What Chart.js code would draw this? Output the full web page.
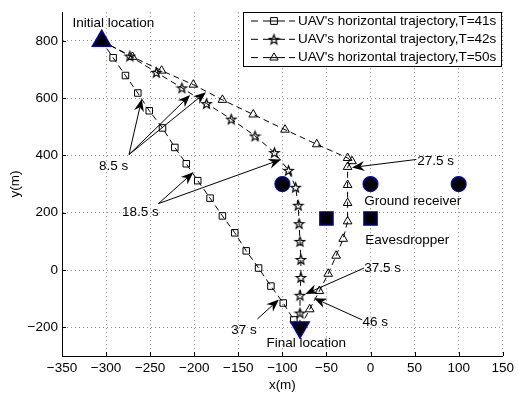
<!DOCTYPE html>
<html>
<head>
<meta charset="utf-8">
<script src="https://cdn.jsdelivr.net/npm/chart.js@4.4.0/dist/chart.umd.min.js"></script>
<style>
  html, body { margin: 0; padding: 0; background: #fff; }
</style>
</head>
<body>
<canvas id="myChart" width="518" height="394"></canvas>
<script>
// UAV trajectories (m), from the initial to the final location
const trajX41 = [-305, -292, -278, -264, -251, -236, -222, -209, -196, -182, -168, -154, -141, -127, -113, -99, -87, -80];
const trajY41 = [800, 741, 679, 618, 556, 496, 428, 371, 312, 251, 189, 130, 67, 7, -56, -115, -174, -200];

const trajX42 = [-305, -273, -243, -214, -186, -158, -131, -109, -93, -85, -82, -81, -80, -79, -79, -80, -80, -80];
const trajY42 = [800, 747, 690, 636, 581, 527, 468, 410, 348, 289, 226, 162, 100, 37, -26, -88, -150, -200];

const trajX50 = [-305, -270, -237, -201, -168, -133, -97, -61, -26, -21, -26, -26, -26, -26, -31, -39, -48, -58, -69, -80];
const trajY50 = [800, 744, 696, 647, 594, 543, 490, 439, 391, 380, 360, 297, 234, 170, 109, 50, -13, -73, -137, -200];

const seriesLabels = [
  "UAV's horizontal trajectory,T=41s",
  "UAV's horizontal trajectory,T=42s",
  "UAV's horizontal trajectory,T=50s",
];

const initialX = [-305];
const initialY = [800];
const finalX = [-80];
const finalY = [-200];
const receiverX = [-100, 0, 100];
const receiverY = [300, 300, 300];
const eveX = [-50, 0];
const eveY = [180, 180];

const xTicks = [-350, -300, -250, -200, -150, -100, -50, 0, 50, 100, 150];
const yTicks = [-200, 0, 200, 400, 600, 800];

// text notes: [text, x, y]
const notes = [
  ['Initial location', -338, 860],
  ['Final location', -118, -257],
  ['Ground receiver', -7, 240],
  ['Eavesdropper', -6, 103],
  ['8.5 s', -308, 362],
  ['18.5 s', -282, 201],
  ['27.5 s', 53, 379],
  ['37.5 s', -7, 7],
  ['46 s', -9, -184],
  ['37 s', -158, -209],
];

// arrows: [fromX, fromY, toX, toY]
const arrows = [
  [-274, 403, -259.5, 597],
  [-274, 403, -204.6, 611],
  [-274, 403, -186.7, 621],
  [-240.5, 232, -201, 341],
  [-240.5, 232, -101.5, 386],
  [52, 386, -21, 358],
  [-7.3, 7, -74, -84],
  [-9.5, -174, -64, -98],
  [-128.4, -171, -104, -103],
];

const FONT = '"Liberation Sans", Arial, sans-serif';
const font = { family: FONT, size: 13.5 };

const toPoints = (xs, ys) => xs.map((x, i) => ({ x, y: ys[i] }));

// five-pointed star marker, drawn once and reused as an image pointStyle
const makeStar = (r) => {
  const size = Math.ceil(r * 2 + 3);
  const c = document.createElement('canvas');
  c.width = size;
  c.height = size;
  const g = c.getContext('2d');
  g.translate(size / 2, size / 2 + 0.5);
  g.beginPath();
  for (let i = 0; i < 10; i++) {
    const rad = i % 2 ? r * 0.42 : r;
    const a = -Math.PI / 2 + i * Math.PI / 5;
    g.lineTo(Math.cos(a) * rad, Math.sin(a) * rad);
  }
  g.closePath();
  g.lineWidth = 1.2;
  g.strokeStyle = '#000';
  g.stroke();
  return c;
};
const star = makeStar(5);

const trajStyle = (pointStyle, radius) => ({
  showLine: true,
  borderColor: '#000',
  borderWidth: 1,
  borderDash: [6, 4],
  pointStyle,
  pointRadius: radius,
  pointBorderColor: '#000',
  pointBorderWidth: 1,
  pointBackgroundColor: 'rgba(0,0,0,0)',
  order: 2,
});

const siteStyle = (pointStyle, radius, rotation) => ({
  showLine: false,
  pointStyle,
  pointRadius: radius,
  rotation: rotation || 0,
  pointBackgroundColor: '#000',
  pointBorderColor: '#0000ee',
  pointBorderWidth: 1.2,
  order: 0,
});

const datasets = [
  { label: seriesLabels[0], data: toPoints(trajX41, trajY41), ...trajStyle('rect', 4.6) },
  { label: seriesLabels[1], data: toPoints(trajX42, trajY42), ...trajStyle(star, 5) },
  { label: seriesLabels[2], data: toPoints(trajX50, trajY50), ...trajStyle('triangle', 5) },
  { label: 'Initial location', data: toPoints(initialX, initialY), ...siteStyle('triangle', 11) },
  { label: 'Final location', data: toPoints(finalX, finalY), ...siteStyle('triangle', 11, 180) },
  { label: 'Ground receiver', data: toPoints(receiverX, receiverY), ...siteStyle('circle', 7.5) },
  { label: 'Eavesdropper', data: toPoints(eveX, eveY), ...siteStyle('rect', 9.5) },
];

const minus = (v) => String(v).replace('-', '\u2212');

const drawArrow = (ctx, x0, y0, x1, y1) => {
  const dx = x1 - x0, dy = y1 - y0;
  const len = Math.hypot(dx, dy);
  const ux = dx / len, uy = dy / len;
  const L = 12.5, W = 5, back = 4;
  ctx.beginPath();
  ctx.moveTo(x0, y0);
  ctx.lineTo(x1 - ux * (L - back), y1 - uy * (L - back));
  ctx.stroke();
  ctx.beginPath();
  ctx.moveTo(x1, y1);
  ctx.lineTo(x1 - ux * L - uy * W, y1 - uy * L + ux * W);
  ctx.lineTo(x1 - ux * (L - back), y1 - uy * (L - back));
  ctx.lineTo(x1 - ux * L + uy * W, y1 - uy * L - ux * W);
  ctx.closePath();
  ctx.fill();
};

const decorations = {
  id: 'decorations',
  beforeDatasetsDraw(chart) {
    const { ctx, scales: { x, y }, chartArea } = chart;
    ctx.save();
    // inward tick marks
    ctx.strokeStyle = '#000';
    ctx.lineWidth = 1;
    ctx.beginPath();
    x.ticks.forEach(t => {
      const px = Math.round(x.getPixelForValue(t.value)) + 0.5;
      ctx.moveTo(px, chartArea.bottom);
      ctx.lineTo(px, chartArea.bottom - 4);
    });
    y.ticks.forEach(t => {
      const py = Math.round(y.getPixelForValue(t.value)) + 0.5;
      ctx.moveTo(chartArea.left, py);
      ctx.lineTo(chartArea.left + 4, py);
    });
    ctx.stroke();
    ctx.restore();
  },
  afterDatasetsDraw(chart) {
    const { ctx, scales: { x, y } } = chart;
    ctx.save();
    ctx.strokeStyle = '#000';
    ctx.fillStyle = '#000';
    ctx.lineWidth = 1;
    arrows.forEach(([fx, fy, tx, ty]) => {
      drawArrow(ctx, x.getPixelForValue(fx), y.getPixelForValue(fy),
        x.getPixelForValue(tx), y.getPixelForValue(ty));
    });

    ctx.font = `13.5px ${FONT}`;
    ctx.textAlign = 'left';
    ctx.textBaseline = 'middle';
    notes.forEach(([text, nx, ny]) => {
      ctx.fillText(text, x.getPixelForValue(nx), y.getPixelForValue(ny));
    });

    // legend
    const left = 243.5, top = 12.5, w = 258, h = 54;
    ctx.fillStyle = '#fff';
    ctx.fillRect(left, top, w, h);
    ctx.strokeRect(left, top, w, h);
    const rows = [21, 39.3, 57.6];
    const styles = ['rect', star, 'triangle'];
    rows.forEach((ry, i) => {
      ctx.lineWidth = 1;
      ctx.beginPath();
      ctx.moveTo(251, ry); ctx.lineTo(258, ry);
      ctx.moveTo(263, ry); ctx.lineTo(285, ry);
      ctx.moveTo(289, ry); ctx.lineTo(295, ry);
      ctx.stroke();
      ctx.fillStyle = 'rgba(0,0,0,0)';
      Chart.helpers.drawPoint(ctx, {
        pointStyle: styles[i], radius: 4.8, rotation: 0, borderWidth: 1,
      }, 274, ry);
      ctx.fillStyle = '#000';
      ctx.fillText(seriesLabels[i], 298, ry);
    });
    ctx.restore();
  },
};

const ctx = document.getElementById('myChart').getContext('2d');

const chart = new Chart(ctx, {
  type: 'scatter',
  data: { datasets },
  plugins: [decorations],
  options: {
    responsive: false,
    animation: false,
    events: [],
    layout: { padding: { top: 4, right: 10, left: 0, bottom: 0 } },
    plugins: {
      legend: { display: false },
      tooltip: { enabled: false },
    },
    scales: {
      x: {
        type: 'linear',
        min: -350,
        max: 150,
        ticks: { padding: 4, color: '#000', font, callback: minus },
        afterBuildTicks: (s) => { s.ticks = xTicks.map(value => ({ value })); },
        grid: { color: '#8a8a8a', lineWidth: 1, drawTicks: false },
        border: { color: '#000', width: 1, dash: [1, 3] },
        title: { display: true, text: 'x(m)', color: '#000', font, padding: { top: 0, bottom: 1 } },
        afterFit: (s) => { s.height = 38; },
      },
      y: {
        type: 'linear',
        min: -300,
        max: 900,
        ticks: { padding: 4, color: '#000', font, callback: minus },
        afterBuildTicks: (s) => { s.ticks = yTicks.map(value => ({ value })); },
        grid: { color: '#8a8a8a', lineWidth: 1, drawTicks: false },
        border: { color: '#000', width: 1, dash: [1, 3] },
        title: { display: true, text: 'y(m)', color: '#000', font, padding: { top: 7, bottom: 0 } },
        afterFit: (s) => { s.width = 62; },
      },
    },
  },
});
</script>
</body>
</html>
